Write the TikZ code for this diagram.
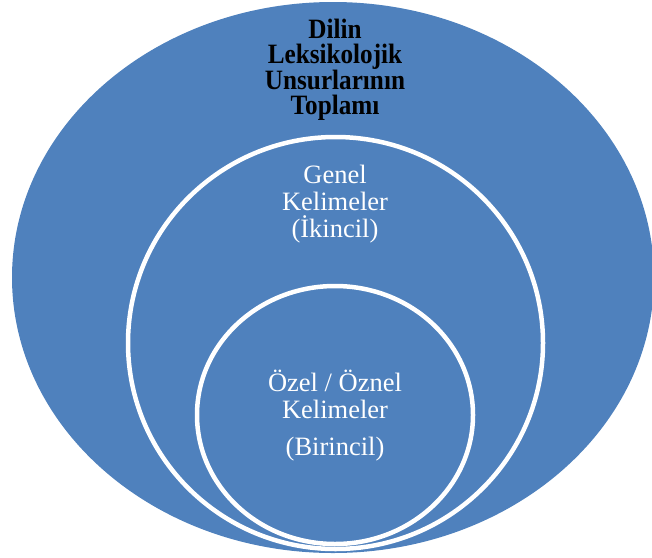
\documentclass[tikz,border=0pt]{standalone}
\usepackage{fontspec}
\setmainfont{Liberation Serif}
\newfontfamily\condbold[FakeStretch=0.9]{Liberation Serif Bold}
\definecolor{ringblue}{HTML}{4F81BD}
\begin{document}
\begin{tikzpicture}[x=1pt,y=-1pt,
  ring/.style={fill=ringblue,draw=white,line width=4.5pt},
  outerlbl/.style={anchor=base,text=black,inner sep=0pt,font=\fontsize{28}{25}\condbold},
  innerlbl/.style={anchor=base,text=white,inner sep=0pt,font=\fontsize{26.5}{27}\selectfont}]
\useasboundingbox (0,0) rectangle (652,557);
\fill[ringblue] (333,277.5) ellipse [x radius=321, y radius=275.5];
\draw[ring] (335.5,343) ellipse [x radius=207.5, y radius=206];
\draw[ring] (335,415) ellipse [x radius=138, y radius=129];
\node[outerlbl] (o1) at (335,38) {Dilin};
\node[outerlbl] (o2) at (335,63) {Leksikolojik};
\node[outerlbl] (o3) at (335,89) {Unsurlarının};
\node[outerlbl] (o4) at (335,114) {Toplamı};
\node[innerlbl] (m1) at (335,183) {Genel};
\node[innerlbl] (m2) at (335,210) {Kelimeler};
\node[innerlbl] (m3) at (335,237) {(İkincil)};
\node[innerlbl] (i1) at (335,391) {Özel / Öznel};
\node[innerlbl] (i2) at (335,418) {Kelimeler};
\node[innerlbl] (i3) at (335,455) {(Birincil)};
\end{tikzpicture}
\end{document}
